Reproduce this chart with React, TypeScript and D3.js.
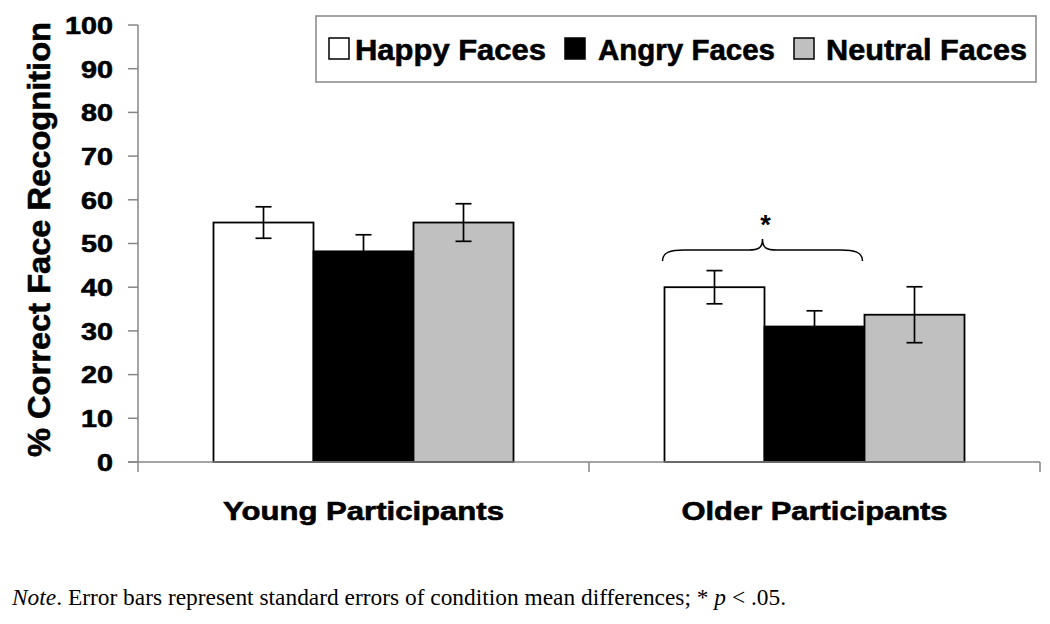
import React from "react";
import * as d3 from "d3";

const groups = ["Young Participants", "Older Participants"];
const series = ["Happy Faces", "Angry Faces", "Neutral Faces"];
const seriesColors = ["#ffffff", "#000000", "#c0c0c0"];
const youngMeans = [54.8, 48.2, 54.8];
const youngErrors = [3.6, 3.8, 4.3];
const olderMeans = [40.0, 31.0, 33.7];
const olderErrors = [3.8, 3.6, 6.4];
const yTicks = [0, 10, 20, 30, 40, 50, 60, 70, 80, 90, 100];
const yTitle = "% Correct Face Recognition";
const sigMarker = "*";

const W = 1050;
const H = 624;
const left = 138;
const right = 1040;
const top = 25;
const bottom = 462;

const SANS = "'Liberation Sans', Arial, sans-serif";
const SERIF = "'Liberation Serif', 'Times New Roman', serif";
const heavy = { stroke: "#000", strokeWidth: 0.6 };

export default function App() {
  const x = d3.scaleBand<string>().domain(groups).range([left, right]).padding(0);
  const bw = x.bandwidth();
  const barW = 100;
  const po = (bw / barW - 3) / 2;
  const xi = d3.scaleBand<string>().domain(series).range([0, bw]).paddingInner(0).paddingOuter(po);
  const y = d3.scaleLinear().domain([0, 100]).range([bottom, top]);

  const data = [
    { g: groups[0], means: youngMeans, errs: youngErrors },
    { g: groups[1], means: olderMeans, errs: olderErrors },
  ];

  const axisColor = "#868686";
  const labelWidths = [281, 266];

  // brace over Older Happy & Angry
  const bx0 = (x(groups[1]) as number) + (xi(series[0]) as number) - 2;
  const bx1 = (x(groups[1]) as number) + (xi(series[1]) as number) + xi.bandwidth() - 2;
  const bm = (bx0 + bx1) / 2;
  const by = y(48.5);
  const byEnd = by + 11;
  const byPeak = by - 11;
  const brace = `M${bx0},${byEnd} C${bx0},${by + 2} ${bx0 + 8},${by} ${bx0 + 22},${by} L${bm - 14},${by} C${bm - 4},${by} ${bm},${by - 2} ${bm},${byPeak} C${bm},${by - 2} ${bm + 4},${by} ${bm + 14},${by} L${bx1 - 22},${by} C${bx1 - 8},${by} ${bx1},${by + 2} ${bx1},${byEnd}`;

  return (
    <svg width={W} height={H} style={{ position: "absolute", left: 0, top: 0, background: "#fff" }}>
      {/* y title */}
      <text
        transform={`translate(50,${(22 + 457) / 2}) rotate(-90)`}
        textAnchor="middle"
        fontFamily={SANS}
        fontWeight="bold"
        fontSize={31}
        textLength={435}
        lengthAdjust="spacingAndGlyphs"
        fill="#000"
        {...heavy}
      >
        {yTitle}
      </text>

      {/* y ticks & labels */}
      {yTicks.map((t) => (
        <g key={t}>
          <line x1={left - 10} x2={left} y1={y(t)} y2={y(t)} stroke={axisColor} strokeWidth={1.5} />
          <text
            x={113}
            y={y(t) + 8.8}
            textAnchor="end"
            fontFamily={SANS}
            fontWeight="bold"
            fontSize={24.5}
            textLength={String(t).length * 16}
            lengthAdjust="spacingAndGlyphs"
            fill="#000"
            {...heavy}
          >
            {t}
          </text>
        </g>
      ))}

      {/* bars */}
      {data.map((d) => (
        <g key={d.g} transform={`translate(${x(d.g)},0)`}>
          {series.map((s, i) => (
            <rect
              key={s}
              x={xi(s)}
              y={y(d.means[i])}
              width={xi.bandwidth()}
              height={y(0) - y(d.means[i])}
              fill={seriesColors[i]}
              stroke="#000"
              strokeWidth={1.8}
            />
          ))}
          {series.map((s, i) => {
            const cx = (xi(s) as number) + xi.bandwidth() / 2;
            const hi = y(d.means[i] + d.errs[i]);
            const lo = y(d.means[i] - d.errs[i]);
            return (
              <g key={s + "e"} stroke="#000" strokeWidth={1.7}>
                <line x1={cx} x2={cx} y1={hi} y2={lo} />
                <line x1={cx - 8} x2={cx + 8} y1={hi} y2={hi} />
                <line x1={cx - 8} x2={cx + 8} y1={lo} y2={lo} />
              </g>
            );
          })}
        </g>
      ))}

      {/* axes */}
      <line x1={left} x2={left} y1={top} y2={bottom + 10} stroke={axisColor} strokeWidth={1.5} />
      <line x1={left - 10} x2={right} y1={bottom} y2={bottom} stroke={axisColor} strokeWidth={1.5} />
      {groups.map((g) => (
        <line key={g} x1={(x(g) as number) + bw} x2={(x(g) as number) + bw} y1={bottom} y2={bottom + 10} stroke={axisColor} strokeWidth={1.5} />
      ))}

      {/* category labels */}
      {groups.map((g, i) => (
        <text
          key={g}
          x={(x(g) as number) + bw / 2}
          y={519.5}
          textAnchor="middle"
          fontFamily={SANS}
          fontWeight="bold"
          fontSize={25.5}
          textLength={labelWidths[i]}
          lengthAdjust="spacingAndGlyphs"
          fill="#000"
          {...heavy}
        >
          {g}
        </text>
      ))}

      {/* brace + asterisk */}
      <path d={brace} fill="none" stroke="#000" strokeWidth={1.5} />
      <text x={bm + 3} y={byPeak - 5} textAnchor="middle" fontFamily={SANS} fontWeight="bold" fontSize={27} fill="#000">
        {sigMarker}
      </text>

      {/* legend */}
      <rect x={316} y={16} width={720} height={66} fill="#fff" stroke={axisColor} strokeWidth={1.5} />
      {series.map((s, i) => {
        const sx = [329, 565, 794][i];
        const tx = [355, 598, 826][i];
        const tw = [191, 177, 201][i];
        return (
          <g key={s}>
            <rect x={sx} y={38} width={20} height={21} fill={seriesColors[i]} stroke="#000" strokeWidth={1.5} />
            <text
              x={tx}
              y={59.5}
              fontFamily={SANS}
              fontWeight="bold"
              fontSize={30}
              textLength={tw}
              lengthAdjust="spacingAndGlyphs"
              fill="#000"
              {...heavy}
            >
              {s}
            </text>
          </g>
        );
      })}

      {/* note */}
      <text x={12} y={605} fontFamily={SERIF} fontSize={23.4} fill="#000">
        <tspan fontStyle="italic">Note</tspan>
        <tspan>. Error bars represent standard errors of condition mean differences; * </tspan>
        <tspan fontStyle="italic">p</tspan>
        <tspan> &lt; .05.</tspan>
      </text>
    </svg>
  );
}
